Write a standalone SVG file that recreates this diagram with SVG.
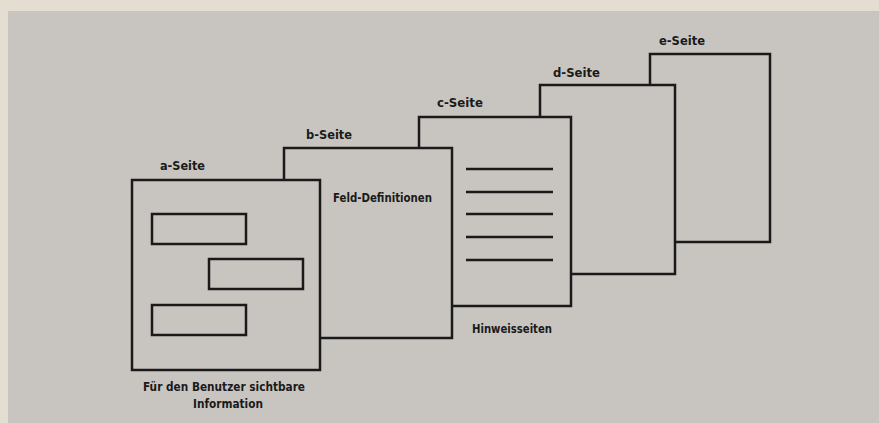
<svg xmlns="http://www.w3.org/2000/svg" width="879" height="423" viewBox="0 0 879 423">
<style>
.pg{fill:#c8c5c0;stroke:#1a1a1a;stroke-width:2.5}
.ln{stroke:#1a1a1a;stroke-width:2.5;fill:none}
.t{font-family:"DejaVu Sans Condensed","DejaVu Sans",sans-serif;font-weight:bold;font-size:12px;fill:#1a1a1a}
</style>
<rect x="0" y="0" width="879" height="423" fill="#e3ddd2"/>
<rect x="8" y="11" width="871" height="412" fill="#c8c5c0"/>
<g id="page-e">
<rect class="pg" x="650" y="54" width="120" height="188"/>
<text class="t" x="659" y="45" textLength="46" lengthAdjust="spacingAndGlyphs">e-Seite</text>
</g>
<g id="page-d">
<rect class="pg" x="540" y="85" width="135" height="189"/>
<text class="t" x="553" y="77" textLength="47" lengthAdjust="spacingAndGlyphs">d-Seite</text>
</g>
<g id="page-c">
<rect class="pg" x="419" y="117" width="152" height="189"/>
<text class="t" x="437" y="107" textLength="46" lengthAdjust="spacingAndGlyphs">c-Seite</text>
<line class="ln" x1="466" y1="169" x2="553" y2="169"/>
<line class="ln" x1="466" y1="192" x2="553" y2="192"/>
<line class="ln" x1="466" y1="214" x2="553" y2="214"/>
<line class="ln" x1="466" y1="237" x2="553" y2="237"/>
<line class="ln" x1="466" y1="260" x2="553" y2="260"/>
<text class="t" x="472" y="333" textLength="80" lengthAdjust="spacingAndGlyphs">Hinweisseiten</text>
</g>
<g id="page-b">
<rect class="pg" x="284" y="148" width="168" height="190"/>
<text class="t" x="306" y="139" textLength="46" lengthAdjust="spacingAndGlyphs">b-Seite</text>
<text class="t" x="333" y="202" textLength="99" lengthAdjust="spacingAndGlyphs">Feld-Definitionen</text>
</g>
<g id="page-a">
<rect class="pg" x="132" y="180" width="188" height="190"/>
<text class="t" x="160" y="170" textLength="45" lengthAdjust="spacingAndGlyphs">a-Seite</text>
<rect class="pg" x="152" y="214" width="94" height="30"/>
<rect class="pg" x="209" y="259" width="94" height="30"/>
<rect class="pg" x="152" y="305" width="94" height="30"/>
<text class="t" x="143" y="391" textLength="162" lengthAdjust="spacingAndGlyphs">Für den Benutzer sichtbare</text>
<text class="t" x="193" y="408" textLength="70" lengthAdjust="spacingAndGlyphs">Information</text>
</g>
<g id="connectors"></g>
</svg>
